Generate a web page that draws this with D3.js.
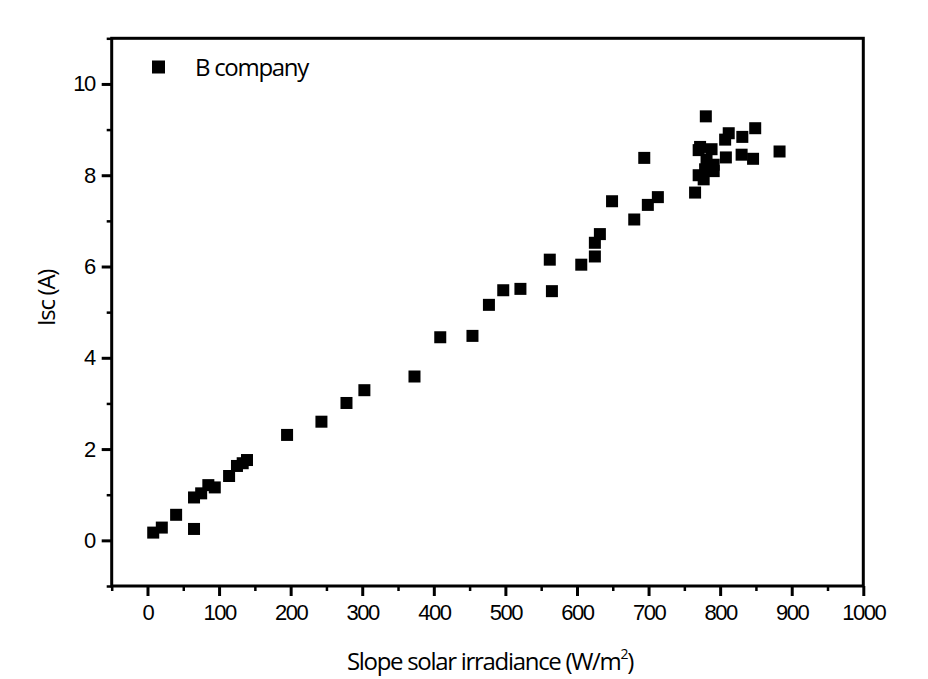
<!DOCTYPE html>
<meta charset="utf-8">
<head>
	<title>Isc vs slope solar irradiance</title>
	<style>
		body { margin: 0; background: #fff; }
		svg { display: block; font-family: "Liberation Sans Narrow", "Open Sans", sans-serif; }
		.axis path, .axis line { stroke: #000; }
		.axis text { font-size: 22px; fill: #000; letter-spacing: -1.5px; }
		.lbl { font-size: 24px; fill: #000; letter-spacing: -1.3px; }
	</style>
	<script src="https://d3js.org/d3.v7.min.js"></script>
</head>
<body>
	<div id="chart"></div>
	<script>
		// irradiance (W/m2) and short-circuit current (A)
		const irradiance = [8, 20, 40, 65, 65, 75, 85, 94, 114, 125, 133, 139, 195, 243, 278, 303, 373, 409, 454, 477,
			497, 521, 562, 565, 606, 625, 625, 632, 680, 649, 699, 713, 694, 765, 770, 777, 791, 779, 791, 781,
			770, 772, 788, 808, 830, 846, 883, 807, 831, 812, 849, 780];
		const isc = [0.17, 0.28, 0.56, 0.25, 0.94, 1.03, 1.21, 1.16, 1.41, 1.63, 1.69, 1.76, 2.31, 2.60, 3.01, 3.29, 3.59, 4.45, 4.48, 5.16,
			5.48, 5.51, 6.15, 5.46, 6.04, 6.22, 6.52, 6.71, 7.03, 7.43, 7.35, 7.52, 8.38, 7.62, 8.00, 7.91, 8.09, 8.13, 8.23, 8.34,
			8.55, 8.62, 8.57, 8.39, 8.45, 8.36, 8.52, 8.78, 8.84, 8.92, 9.03, 9.29];
		const xTicks = [0, 100, 200, 300, 400, 500, 600, 700, 800, 900, 1000];
		const yTicks = [0, 2, 4, 6, 8, 10];
		const seriesName = 'B company';

		const W = 928, H = 679;
		const mLeft = 111.7, mRight = 863.3, mTop = 38.3, mBottom = 586;

		const x = d3.scaleLinear().domain([-50, 1000]).range([mLeft, mRight]);
		const y = d3.scaleLinear().domain([-1, 11]).range([mBottom, mTop]);

		const svg = d3.select('#chart').append('svg').attr('width', W).attr('height', H);

		// minor ticks first
		svg.append('g').attr('class', 'axis').attr('transform', `translate(0,${mBottom})`)
			.call(d3.axisBottom(x).tickValues(d3.range(-50, 1001, 100)).tickSize(5).tickFormat(''))
			.call(g => g.select('.domain').remove())
			.selectAll('line').attr('stroke-width', 2.5);
		svg.append('g').attr('class', 'axis').attr('transform', `translate(${mLeft},0)`)
			.call(d3.axisLeft(y).tickValues(d3.range(-1, 11.1, 2)).tickSize(5).tickFormat(''))
			.call(g => g.select('.domain').remove())
			.selectAll('line').attr('stroke-width', 2.5);

		const xAxis = svg.append('g').attr('class', 'axis').attr('transform', `translate(0,${mBottom})`)
			.call(d3.axisBottom(x).tickValues(xTicks).tickFormat(d3.format('d')).tickSize(10).tickPadding(5).tickSizeOuter(0));
		xAxis.select('.domain').remove();
		xAxis.selectAll('line').attr('stroke-width', 3);
		xAxis.selectAll('text').attr('dy', '0.85em');

		const yAxis = svg.append('g').attr('class', 'axis').attr('transform', `translate(${mLeft},0)`)
			.call(d3.axisLeft(y).tickValues(yTicks).tickSize(10).tickPadding(7).tickSizeOuter(0));
		yAxis.select('.domain').remove();
		yAxis.selectAll('line').attr('stroke-width', 3);

		// frame
		svg.append('rect').attr('x', mLeft).attr('y', mTop).attr('width', mRight - mLeft).attr('height', mBottom - mTop)
			.attr('fill', 'none').attr('stroke', '#000').attr('stroke-width', 3);

		const s = 12;
		svg.append('g').selectAll('rect').data(irradiance).join('rect')
			.attr('x', (d, i) => x(d) - s / 2)
			.attr('y', (d, i) => y(isc[i]) - s / 2)
			.attr('width', s).attr('height', s).attr('fill', '#000');

		// legend
		svg.append('rect').attr('x', 152).attr('y', 60.5).attr('width', 13).attr('height', 13).attr('fill', '#000');
		svg.append('text').attr('class', 'lbl').attr('x', 195).attr('y', 76).text(seriesName);

		const xl = svg.append('text').attr('class', 'lbl').attr('x', 490).attr('y', 670).attr('text-anchor', 'middle');
		xl.append('tspan').text('Slope solar irradiance (W/m');
		xl.append('tspan').attr('font-size', 14).attr('dy', -11).text('2');
		xl.append('tspan').attr('dy', 11).text(')');

		svg.append('text').attr('class', 'lbl').attr('transform', 'translate(55,298) rotate(-90)')
			.attr('text-anchor', 'middle').text('Isc (A)');
	</script>
</body>
